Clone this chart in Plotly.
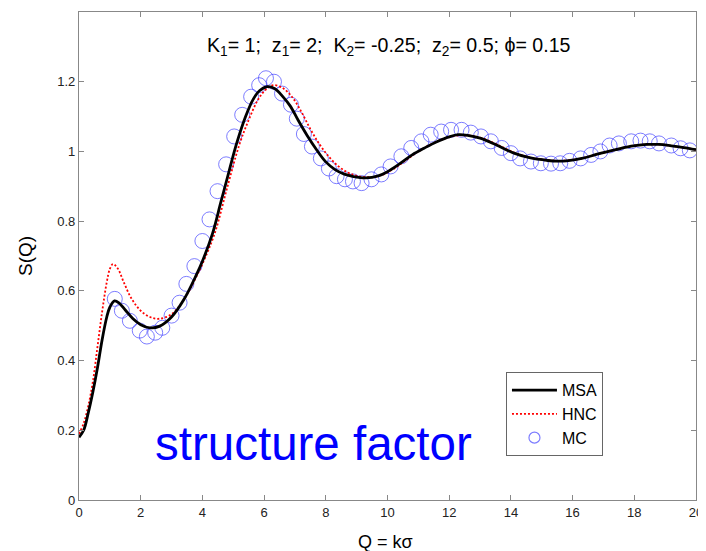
import plotly.graph_objects as go

# MSA curve
msa_q = [0, 0.15, 0.3, 0.45, 0.6, 0.75, 0.9, 1.0, 1.15, 1.3, 1.5, 1.75, 2.0, 2.3, 2.6, 3.0, 3.4, 3.8, 4.0, 4.33, 4.6, 4.87, 5.1, 5.4, 5.65, 5.85, 6.1, 6.35, 6.6, 6.85, 7.1, 7.4, 7.7, 8.0, 8.3, 8.6, 8.9, 9.3, 9.7, 10.0, 10.4, 10.8, 11.2, 11.6, 12.0, 12.3, 12.6, 13.0, 13.5, 14.1, 14.6, 15.2, 15.5, 15.8, 16.3, 16.8, 17.4, 17.9, 18.4, 18.8, 19.2, 19.6, 20.0]
msa_s = [0.18, 0.2, 0.25, 0.31, 0.38, 0.46, 0.525, 0.553, 0.571, 0.565, 0.545, 0.52, 0.503, 0.494, 0.498, 0.525, 0.575, 0.645, 0.685, 0.765, 0.855, 0.945, 1.02, 1.1, 1.15, 1.174, 1.186, 1.18, 1.158, 1.13, 1.09, 1.045, 1.005, 0.97, 0.948, 0.935, 0.928, 0.924, 0.93, 0.942, 0.965, 0.99, 1.01, 1.028, 1.042, 1.048, 1.046, 1.038, 1.02, 0.995, 0.982, 0.974, 0.972, 0.973, 0.98, 0.992, 1.005, 1.015, 1.02, 1.02, 1.016, 1.011, 1.005]

# HNC curve
hnc_q = [0, 0.15, 0.3, 0.45, 0.6, 0.75, 0.9, 1.0, 1.1, 1.25, 1.45, 1.7, 2.0, 2.3, 2.6, 3.0, 3.4, 3.8, 4.0, 4.4, 4.8, 5.2, 5.5, 5.8, 6.05, 6.3, 6.6, 6.9, 7.2, 7.5, 7.8, 8.1, 8.4, 8.7, 9.0, 9.4, 9.8, 10.2, 10.6, 11.0, 11.4, 11.8, 12.2, 12.6, 13.0, 13.5, 14.1, 14.6, 15.2, 15.5, 15.8, 16.3, 16.8, 17.4, 17.9, 18.4, 18.8, 19.2, 19.6, 20.0]
hnc_s = [0.19, 0.22, 0.27, 0.34, 0.44, 0.54, 0.625, 0.663, 0.677, 0.665, 0.625, 0.578, 0.543, 0.525, 0.52, 0.533, 0.575, 0.64, 0.677, 0.765, 0.895, 1.02, 1.09, 1.148, 1.177, 1.19, 1.182, 1.157, 1.115, 1.064, 1.02, 0.985, 0.958, 0.94, 0.93, 0.926, 0.932, 0.95, 0.975, 1.0, 1.02, 1.035, 1.045, 1.046, 1.04, 1.022, 0.997, 0.983, 0.975, 0.973, 0.974, 0.98, 0.992, 1.005, 1.015, 1.02, 1.02, 1.016, 1.011, 1.005]

# MC simulation points
mc_q = [1.16, 1.39, 1.65, 1.97, 2.2, 2.47, 2.7, 3.0, 3.26, 3.48, 3.74, 4.0, 4.23, 4.49, 4.77, 5.03, 5.29, 5.58, 5.84, 6.06, 6.32, 6.58, 6.87, 7.06, 7.29, 7.55, 7.84, 8.1, 8.35, 8.62, 8.88, 9.16, 9.48, 9.8, 10.1, 10.45, 10.77, 11.1, 11.4, 11.74, 12.06, 12.4, 12.7, 13.03, 13.35, 13.7, 14.0, 14.3, 14.65, 14.97, 15.3, 15.6, 15.9, 16.26, 16.6, 16.9, 17.2, 17.5, 17.9, 18.2, 18.5, 18.8, 19.2, 19.5, 19.8]
mc_s = [0.577, 0.543, 0.514, 0.486, 0.469, 0.48, 0.494, 0.529, 0.566, 0.62, 0.671, 0.743, 0.805, 0.886, 0.963, 1.043, 1.105, 1.157, 1.19, 1.21, 1.2, 1.166, 1.134, 1.094, 1.05, 1.014, 0.98, 0.951, 0.929, 0.92, 0.914, 0.909, 0.92, 0.934, 0.957, 0.986, 1.01, 1.029, 1.048, 1.057, 1.062, 1.062, 1.054, 1.043, 1.029, 1.01, 0.995, 0.98, 0.971, 0.966, 0.965, 0.966, 0.973, 0.98, 0.99, 1.0, 1.017, 1.023, 1.029, 1.031, 1.029, 1.023, 1.017, 1.009, 1.003]

x_ticks = [0, 2, 4, 6, 8, 10, 12, 14, 16, 18, 20]
y_ticks = [0, 0.2, 0.4, 0.6, 0.8, 1, 1.2]
y_tick_labels = ["0", "0.2", "0.4", "0.6", "0.8", "1", "1.2"]

MC_COLOR = "rgba(70,70,255,0.7)"

fig = go.Figure()
fig.add_trace(go.Scatter(x=mc_q, y=mc_s, mode="markers", name="MC", showlegend=False,
                         marker=dict(symbol="circle-open", size=15, color=MC_COLOR,
                                     line=dict(width=1))))
# legend-only entry for MC with the smaller legend symbol
fig.add_trace(go.Scatter(x=[None], y=[None], mode="markers", name="MC",
                         marker=dict(symbol="circle-open", size=11, color=MC_COLOR,
                                     line=dict(width=1.2))))
fig.add_trace(go.Scatter(x=hnc_q, y=hnc_s, mode="lines", name="HNC", line_shape="spline",
                         line=dict(color="red", width=1.8, dash="2px,2px")))
fig.add_trace(go.Scatter(x=msa_q, y=msa_s, mode="lines", name="MSA", line_shape="spline",
                         line=dict(color="black", width=2.8)))

axis_common = dict(showgrid=False, zeroline=False, showline=True, linecolor="#888888",
                   linewidth=1.2, mirror="ticks", ticks="inside", ticklen=5,
                   tickcolor="#888888", tickfont=dict(family="Arial, Liberation Sans", size=13, color="#222"))
fig.update_xaxes(range=[0, 20], tickvals=x_ticks, ticklabeloverflow="allow", **axis_common)
fig.update_yaxes(range=[0, 1.4], tickvals=y_ticks, ticktext=y_tick_labels, **axis_common)

fig.update_layout(
    width=698, height=543,
    margin=dict(l=71, r=7, t=3, b=51),
    plot_bgcolor="white", paper_bgcolor="white",
    font=dict(family="Arial, Liberation Sans"),
    legend=dict(x=0.692, y=0.262, xanchor="left", yanchor="top", traceorder="reversed",
                bgcolor="white", bordercolor="#666", borderwidth=1,
                font=dict(size=16, color="black"), itemwidth=45, tracegroupgap=0),
    showlegend=True,
)

fig.add_annotation(x=0.502, y=1.0, xref="paper", yref="paper", yshift=-34, showarrow=False,
                   text="K<sub>1</sub>= 1;&nbsp; z<sub>1</sub>= 2;&nbsp; K<sub>2</sub>= -0.25;&nbsp; z<sub>2</sub>= 0.5; ϕ= 0.15",
                   font=dict(size=19.6, color="black"), xanchor="center", yanchor="middle")
fig.add_annotation(x=7.6, y=0.163, xref="x", yref="y", showarrow=False, text="structure factor",
                   font=dict(size=47.5, color="#0000ff"), xanchor="center", yanchor="middle")
fig.add_annotation(x=0.497, y=0, xref="paper", yref="paper", yshift=-42, showarrow=False,
                   text="Q = kσ", font=dict(size=18, color="black"), xanchor="center", yanchor="middle")
fig.add_annotation(x=0, y=0.5, xref="paper", yref="paper", xshift=-54, showarrow=False,
                   text="S(Q)", textangle=-90, font=dict(size=19, color="black"),
                   xanchor="center", yanchor="middle")

fig.write_html("out.html")
